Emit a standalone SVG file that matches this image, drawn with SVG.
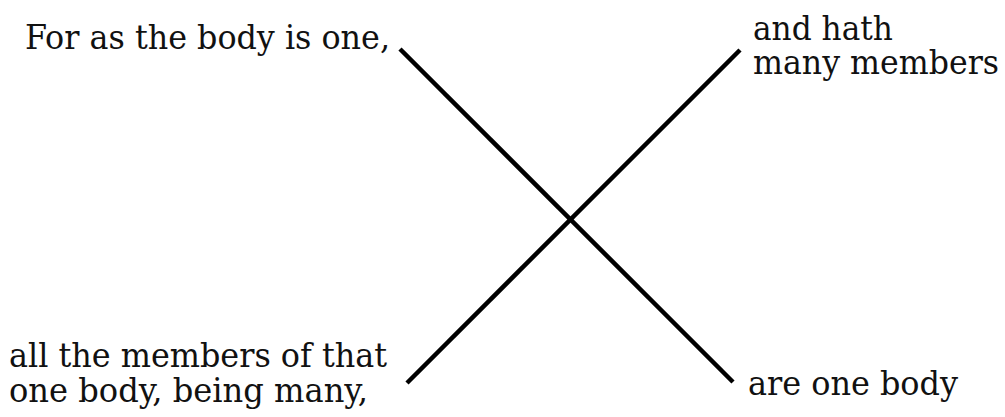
<svg xmlns="http://www.w3.org/2000/svg" width="1005" height="417" viewBox="0 0 1005 417">
<style>
text{font-family:'DejaVu Serif Condensed','DejaVu Serif','Liberation Serif',serif;font-stretch:condensed;font-size:34px;fill:#111}
.c{stroke:#000;stroke-width:4.5;fill:none}
</style>
<rect width="1005" height="417" fill="#fff"/>
<g id="connectors">
<line class="c" x1="400" y1="49" x2="733" y2="382"/>
<line class="c" x1="407" y1="383" x2="740" y2="50"/>
</g>
<g id="node-top-left"><text x="25" y="49" textLength="365" lengthAdjust="spacingAndGlyphs">For as the body is one,</text></g>
<g id="node-top-right"><text x="753" y="40" textLength="140" lengthAdjust="spacingAndGlyphs">and hath</text><text x="753" y="74" textLength="246" lengthAdjust="spacingAndGlyphs">many members</text></g>
<g id="node-bottom-left"><text x="9" y="367" textLength="378" lengthAdjust="spacingAndGlyphs">all the members of that</text><text x="9" y="402" textLength="359" lengthAdjust="spacingAndGlyphs">one body, being many,</text></g>
<g id="node-bottom-right"><text x="748" y="395" textLength="210" lengthAdjust="spacingAndGlyphs">are one body</text></g>
</svg>
